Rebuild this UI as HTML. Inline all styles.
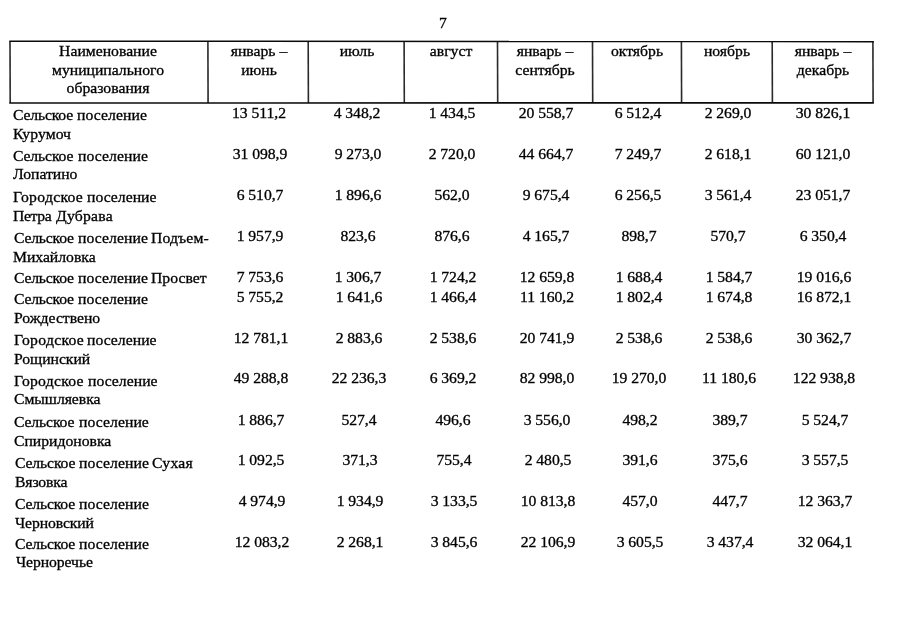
<!DOCTYPE html>
<html lang="ru"><head><meta charset="utf-8"><title>7</title>
<style>
html,body{margin:0;padding:0;background:#fff;}
body{width:905px;height:640px;position:relative;overflow:hidden;font-family:"Liberation Serif","DejaVu Serif",serif;font-size:15.1px;line-height:20px;color:#000;-webkit-text-stroke:0.3px #000;}
.t{position:absolute;white-space:nowrap;transform-origin:0 50%;transform:scaleX(1.04);}
.c{position:absolute;white-space:nowrap;transform:translateX(-50%) scaleX(1.04);text-align:center;}
.n{letter-spacing:-0.05px;}
svg{position:absolute;left:0;top:0;}
</style></head><body>

<svg width="905" height="640" viewBox="0 0 905 640"><g fill="none">
<line x1="10.00" y1="41.30" x2="10.20" y2="103.00" stroke="#2a2a2a" stroke-width="1.6"/>
<line x1="207.90" y1="41.30" x2="208.10" y2="103.00" stroke="#2a2a2a" stroke-width="1.6"/>
<line x1="308.20" y1="41.30" x2="308.40" y2="103.00" stroke="#2a2a2a" stroke-width="1.6"/>
<line x1="404.10" y1="41.30" x2="404.30" y2="103.00" stroke="#2a2a2a" stroke-width="1.6"/>
<line x1="497.50" y1="41.30" x2="497.70" y2="103.00" stroke="#2a2a2a" stroke-width="1.6"/>
<line x1="592.50" y1="41.30" x2="592.70" y2="103.00" stroke="#2a2a2a" stroke-width="1.6"/>
<line x1="681.40" y1="41.30" x2="681.60" y2="103.00" stroke="#2a2a2a" stroke-width="1.6"/>
<line x1="772.20" y1="41.30" x2="772.40" y2="103.00" stroke="#2a2a2a" stroke-width="1.6"/>
<line x1="872.90" y1="41.30" x2="873.10" y2="103.00" stroke="#2a2a2a" stroke-width="1.6"/>
<line x1="9.30" y1="41.20" x2="873.80" y2="41.60" stroke="#0a0a0a" stroke-width="1.6"/>
<line x1="9.30" y1="103.00" x2="873.80" y2="102.85" stroke="#0a0a0a" stroke-width="1.6"/>
</g></svg>
<div class="c" style="left:442.6px;top:13.00px">7</div>
<div class="c" style="left:108.40px;top:41.00px">Наименование</div>
<div class="c" style="left:108.40px;top:60.00px">муниципального</div>
<div class="c" style="left:108.40px;top:78.00px">образования</div>
<div class="c" style="left:258.70px;top:41.00px">январь –</div>
<div class="c" style="left:258.70px;top:60.00px">июнь</div>
<div class="c" style="left:357.00px;top:41.00px">июль</div>
<div class="c" style="left:451.40px;top:41.00px">август</div>
<div class="c" style="left:545.30px;top:41.00px">январь –</div>
<div class="c" style="left:545.30px;top:60.00px">сентябрь</div>
<div class="c" style="left:637.00px;top:41.00px">октябрь</div>
<div class="c" style="left:727.00px;top:41.00px">ноябрь</div>
<div class="c" style="left:823.00px;top:41.00px">январь –</div>
<div class="c" style="left:823.00px;top:60.00px">декабрь</div>
<div class="t" style="left:13.29px;top:105.00px;letter-spacing:-0.177px">Сельское</div>
<div class="t" style="left:77.31px;top:105.00px;letter-spacing:0.072px">поселение</div>
<div class="t" style="left:13.31px;top:124.00px;letter-spacing:0.052px">Курумоч</div>
<div class="c n" style="left:259.38px;top:103.00px">13 511,2</div>
<div class="c n" style="left:357.48px;top:103.00px">4 348,2</div>
<div class="c n" style="left:451.58px;top:103.00px">1 434,5</div>
<div class="c n" style="left:545.58px;top:103.00px">20 558,7</div>
<div class="c n" style="left:637.78px;top:103.00px">6 512,4</div>
<div class="c n" style="left:727.68px;top:103.00px">2 269,0</div>
<div class="c n" style="left:822.68px;top:103.00px">30 826,1</div>
<div class="t" style="left:13.29px;top:146.00px;letter-spacing:-0.136px">Сельское</div>
<div class="t" style="left:77.50px;top:146.00px;letter-spacing:0.084px">поселение</div>
<div class="t" style="left:13.30px;top:164.00px;letter-spacing:-0.032px">Лопатино</div>
<div class="c n" style="left:259.62px;top:144.00px">31 098,9</div>
<div class="c n" style="left:357.72px;top:144.00px">9 273,0</div>
<div class="c n" style="left:451.82px;top:144.00px">2 720,0</div>
<div class="c n" style="left:545.82px;top:144.00px">44 664,7</div>
<div class="c n" style="left:638.02px;top:144.00px">7 249,7</div>
<div class="c n" style="left:727.92px;top:144.00px">2 618,1</div>
<div class="c n" style="left:822.92px;top:144.00px">60 121,0</div>
<div class="t" style="left:13.31px;top:187.00px;letter-spacing:0.264px">Городское</div>
<div class="t" style="left:86.91px;top:187.00px;letter-spacing:0.011px">поселение</div>
<div class="t" style="left:13.31px;top:206.00px;letter-spacing:-0.361px">Петра</div>
<div class="t" style="left:55.60px;top:206.00px;letter-spacing:0.225px">Дубрава</div>
<div class="c n" style="left:259.87px;top:185.00px">6 510,7</div>
<div class="c n" style="left:357.97px;top:185.00px">1 896,6</div>
<div class="c n" style="left:452.07px;top:185.00px">562,0</div>
<div class="c n" style="left:546.07px;top:185.00px">9 675,4</div>
<div class="c n" style="left:638.27px;top:185.00px">6 256,5</div>
<div class="c n" style="left:728.17px;top:185.00px">3 561,4</div>
<div class="c n" style="left:823.17px;top:185.00px">23 051,7</div>
<div class="t" style="left:13.79px;top:228.00px;letter-spacing:-0.205px">Сельское</div>
<div class="t" style="left:77.81px;top:228.00px;letter-spacing:0.072px">поселение</div>
<div class="t" style="left:151.06px;top:228.00px;letter-spacing:0.122px">Подъем-</div>
<div class="t" style="left:13.31px;top:247.00px;letter-spacing:-0.024px">Михайловка</div>
<div class="c n" style="left:260.12px;top:226.00px">1 957,9</div>
<div class="c n" style="left:358.22px;top:226.00px">823,6</div>
<div class="c n" style="left:452.32px;top:226.00px">876,6</div>
<div class="c n" style="left:546.32px;top:226.00px">4 165,7</div>
<div class="c n" style="left:638.52px;top:226.00px">898,7</div>
<div class="c n" style="left:728.42px;top:226.00px">570,7</div>
<div class="c n" style="left:823.42px;top:226.00px">6 350,4</div>
<div class="t" style="left:13.79px;top:268.00px;letter-spacing:-0.205px">Сельское</div>
<div class="t" style="left:77.81px;top:268.00px;letter-spacing:0.072px">поселение</div>
<div class="t" style="left:151.06px;top:268.00px;letter-spacing:0.012px">Просвет</div>
<div class="c n" style="left:260.37px;top:267.00px">7 753,6</div>
<div class="c n" style="left:358.47px;top:267.00px">1 306,7</div>
<div class="c n" style="left:452.57px;top:267.00px">1 724,2</div>
<div class="c n" style="left:546.57px;top:267.00px">12 659,8</div>
<div class="c n" style="left:638.77px;top:267.00px">1 688,4</div>
<div class="c n" style="left:728.67px;top:267.00px">1 584,7</div>
<div class="c n" style="left:823.67px;top:267.00px">19 016,6</div>
<div class="t" style="left:13.79px;top:289.00px;letter-spacing:-0.205px">Сельское</div>
<div class="t" style="left:77.81px;top:289.00px;letter-spacing:0.072px">поселение</div>
<div class="t" style="left:13.76px;top:308.00px;letter-spacing:-0.021px">Рождествено</div>
<div class="c n" style="left:260.49px;top:287.00px">5 755,2</div>
<div class="c n" style="left:358.59px;top:287.00px">1 641,6</div>
<div class="c n" style="left:452.69px;top:287.00px">1 466,4</div>
<div class="c n" style="left:546.69px;top:287.00px">11 160,2</div>
<div class="c n" style="left:638.89px;top:287.00px">1 802,4</div>
<div class="c n" style="left:728.79px;top:287.00px">1 674,8</div>
<div class="c n" style="left:823.79px;top:287.00px">16 872,1</div>
<div class="t" style="left:13.81px;top:330.00px;letter-spacing:0.264px">Городское</div>
<div class="t" style="left:87.21px;top:330.00px;letter-spacing:0.023px">поселение</div>
<div class="t" style="left:13.76px;top:349.00px;letter-spacing:-0.034px">Рощинский</div>
<div class="c n" style="left:260.73px;top:328.00px">12 781,1</div>
<div class="c n" style="left:358.83px;top:328.00px">2 883,6</div>
<div class="c n" style="left:452.93px;top:328.00px">2 538,6</div>
<div class="c n" style="left:546.93px;top:328.00px">20 741,9</div>
<div class="c n" style="left:639.13px;top:328.00px">2 538,6</div>
<div class="c n" style="left:729.03px;top:328.00px">2 538,6</div>
<div class="c n" style="left:824.03px;top:328.00px">30 362,7</div>
<div class="t" style="left:14.16px;top:371.00px;letter-spacing:0.222px">Городское</div>
<div class="t" style="left:87.71px;top:371.00px;letter-spacing:0.023px">поселение</div>
<div class="t" style="left:14.14px;top:389.00px;letter-spacing:-0.038px">Смышляевка</div>
<div class="c n" style="left:260.97px;top:368.00px">49 288,8</div>
<div class="c n" style="left:359.07px;top:368.00px">22 236,3</div>
<div class="c n" style="left:453.17px;top:368.00px">6 369,2</div>
<div class="c n" style="left:547.17px;top:368.00px">82 998,0</div>
<div class="c n" style="left:639.37px;top:368.00px">19 270,0</div>
<div class="c n" style="left:729.27px;top:368.00px">11 180,6</div>
<div class="c n" style="left:824.27px;top:368.00px">122 938,8</div>
<div class="t" style="left:14.24px;top:412.00px;letter-spacing:-0.129px">Сельское</div>
<div class="t" style="left:78.60px;top:412.00px;letter-spacing:0.059px">поселение</div>
<div class="t" style="left:14.24px;top:431.00px;letter-spacing:-0.012px">Спиридоновка</div>
<div class="c n" style="left:261.22px;top:410.00px">1 886,7</div>
<div class="c n" style="left:359.32px;top:410.00px">527,4</div>
<div class="c n" style="left:453.42px;top:410.00px">496,6</div>
<div class="c n" style="left:547.42px;top:410.00px">3 556,0</div>
<div class="c n" style="left:639.62px;top:410.00px">498,2</div>
<div class="c n" style="left:729.52px;top:410.00px">389,7</div>
<div class="c n" style="left:824.52px;top:410.00px">5 524,7</div>
<div class="t" style="left:14.64px;top:453.00px;letter-spacing:-0.129px">Сельское</div>
<div class="t" style="left:79.00px;top:453.00px;letter-spacing:0.072px">поселение</div>
<div class="t" style="left:152.44px;top:453.00px;letter-spacing:0.250px">Сухая</div>
<div class="t" style="left:14.66px;top:472.00px;letter-spacing:-0.136px">Вязовка</div>
<div class="c n" style="left:261.47px;top:450.00px">1 092,5</div>
<div class="c n" style="left:359.57px;top:450.00px">371,3</div>
<div class="c n" style="left:453.67px;top:450.00px">755,4</div>
<div class="c n" style="left:547.67px;top:450.00px">2 480,5</div>
<div class="c n" style="left:639.87px;top:450.00px">391,6</div>
<div class="c n" style="left:729.77px;top:450.00px">375,6</div>
<div class="c n" style="left:824.77px;top:450.00px">3 557,5</div>
<div class="t" style="left:14.94px;top:494.00px;letter-spacing:-0.170px">Сельское</div>
<div class="t" style="left:79.10px;top:494.00px;letter-spacing:0.072px">поселение</div>
<div class="t" style="left:15.18px;top:513.00px;letter-spacing:-0.114px">Черновский</div>
<div class="c n" style="left:261.71px;top:491.00px">4 974,9</div>
<div class="c n" style="left:359.81px;top:491.00px">1 934,9</div>
<div class="c n" style="left:453.91px;top:491.00px">3 133,5</div>
<div class="c n" style="left:547.91px;top:491.00px">10 813,8</div>
<div class="c n" style="left:640.11px;top:491.00px">457,0</div>
<div class="c n" style="left:730.01px;top:491.00px">447,7</div>
<div class="c n" style="left:825.01px;top:491.00px">12 363,7</div>
<div class="t" style="left:15.14px;top:534.00px;letter-spacing:-0.157px">Сельское</div>
<div class="t" style="left:79.46px;top:534.00px;letter-spacing:0.078px">поселение</div>
<div class="t" style="left:15.68px;top:552.00px;letter-spacing:-0.082px">Черноречье</div>
<div class="c n" style="left:261.95px;top:532.00px">12 083,2</div>
<div class="c n" style="left:360.05px;top:532.00px">2 268,1</div>
<div class="c n" style="left:454.15px;top:532.00px">3 845,6</div>
<div class="c n" style="left:548.15px;top:532.00px">22 106,9</div>
<div class="c n" style="left:640.35px;top:532.00px">3 605,5</div>
<div class="c n" style="left:730.25px;top:532.00px">3 437,4</div>
<div class="c n" style="left:825.25px;top:532.00px">32 064,1</div>
</body></html>
